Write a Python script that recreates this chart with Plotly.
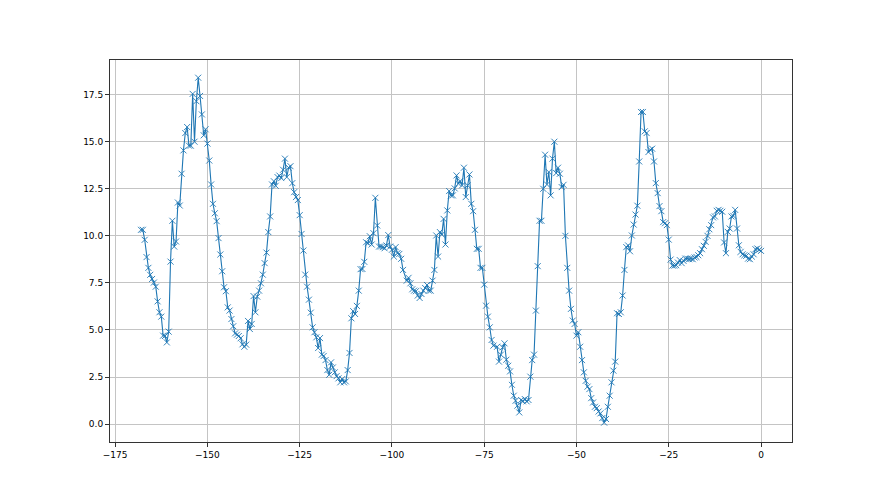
import plotly.graph_objects as go

# y-values, grouped in runs of consecutive samples (step 0.5)
run_starts = [-168.0, -145.0, -120.5, -96.0, -71.5, -47.5, -23.0, -11.5]
step = 0.5

run_a = [10.32, 10.32, 9.79, 8.87, 8.3, 7.93, 7.71, 7.52, 7.3, 6.52, 5.94, 5.71, 4.7, 4.68,
         4.34, 4.91, 8.63, 10.8, 9.43, 9.7, 11.77, 11.61, 13.3, 14.54, 15.46, 15.78, 14.79,
         14.79, 17.54, 15.0, 17.15, 18.4, 17.43, 16.45, 15.34, 15.66, 14.9, 14.0, 12.73, 11.7,
         11.2, 10.78, 9.88, 9.01, 8.12, 7.27]
run_b = [7.06, 6.2, 6.03, 5.58, 5.2, 4.82, 4.75, 4.68, 4.56, 4.24, 4.11, 4.22, 5.48, 5.05,
         5.32, 6.8, 5.94, 6.77, 7.09, 7.48, 7.94, 8.55, 9.11, 10.2, 11.03, 12.73, 12.9, 12.66,
         13.12, 13.2, 13.07, 13.51, 14.1, 13.12, 13.62, 13.7, 12.8, 12.32, 12.06, 11.9, 11.1,
         10.1, 9.22, 7.94, 7.3, 6.61, 5.92, 5.14, 4.88]
run_c = [4.61, 4.04, 4.57, 3.69, 3.62, 3.4, 2.87, 2.62, 3.28, 3.01, 2.75, 2.55, 2.43, 2.22,
         2.39, 2.22, 2.27, 2.87, 3.78, 5.62, 6.0, 5.85, 6.28, 7.09, 8.23, 8.24, 8.62, 9.66,
         9.61, 9.98, 9.54, 10.14, 12.02, 10.55, 9.43, 9.43, 9.4, 9.34, 9.49, 10.04, 9.43,
         9.26, 8.9, 9.4, 9.08, 9.04, 8.78, 8.19]
run_d = [7.62, 7.77, 7.48, 7.16, 7.09, 7.06, 6.83, 6.7, 6.91, 7.09, 7.23, 7.39, 7.09, 7.09,
         7.62, 8.19, 10.02, 8.9, 10.2, 10.07, 10.9, 9.54, 11.35, 12.38, 12.15, 12.15, 12.52,
         13.21, 12.77, 12.91, 12.68, 13.62, 12.06, 12.68, 13.26, 11.7, 11.31, 10.32, 9.31,
         9.31, 8.3, 8.3, 7.41, 6.29, 5.71, 5.14, 4.47, 4.17]
run_e = [4.11, 3.32, 3.69, 4.08, 4.29, 3.42, 3.1, 2.8, 2.09, 1.51, 1.24, 0.98, 0.62, 1.28,
         1.21, 1.33, 1.21, 1.28, 2.52, 3.4, 3.69, 6.03, 8.39, 10.8, 10.8, 12.5, 14.31, 12.73,
         13.39, 12.15, 14.1, 15.0, 13.33, 13.62, 13.3, 12.59, 12.71, 10.0, 8.3, 7.09, 6.12,
         5.5, 5.32, 4.7, 4.88, 4.11, 3.4, 2.75]
run_f = [2.3, 1.99, 1.86, 1.38, 1.15, 0.92, 0.85, 0.67, 0.57, 0.32, 0.08, 0.27, 0.92, 1.51,
         2.22, 2.84, 3.32, 5.89, 5.85, 5.94, 6.83, 8.19, 9.4, 9.49, 9.18, 10.02, 10.6, 11.13,
         11.6, 13.95, 16.58, 16.58, 15.55, 15.46, 14.45, 14.57, 14.63, 13.95, 12.8, 12.27,
         11.58, 11.31, 10.73, 10.67, 10.57, 9.8, 8.74, 8.42, 8.42]
run_g = [8.44, 8.58, 8.71, 8.55, 8.67, 8.79, 8.79, 8.76, 8.79, 8.76, 8.85, 8.88, 8.97, 9.08,
         9.29, 9.47, 9.68, 10.0, 10.35, 10.57, 10.98, 11.03, 11.33]
run_h = [11.38, 11.33, 11.28, 9.65, 9.08, 10.21, 10.39, 11.03, 11.06, 11.38, 10.39, 9.5,
         9.15, 9.02, 8.97, 8.94, 8.79, 8.76, 8.9, 9.02, 9.29, 9.33, 9.26, 9.2]

x_ticks = [-175, -150, -125, -100, -75, -50, -25, 0]
y_ticks = [0.0, 2.5, 5.0, 7.5, 10.0, 12.5, 15.0, 17.5]

runs = [run_a, run_b, run_c, run_d, run_e, run_f, run_g, run_h]
xs, ys = [], []
for start, vals in zip(run_starts, runs):
    for i, v in enumerate(vals):
        xs.append(start + step * i)
        ys.append(v)

blue = "#1f77b4"
fig = go.Figure()
fig.add_trace(go.Scatter(
    x=xs, y=ys, mode="lines+markers",
    line=dict(color=blue, width=1.1),
    marker=dict(symbol="x-thin", size=6, line=dict(color=blue, width=0.9), color=blue),
    showlegend=False,
))

axis_common = dict(
    showline=True, linecolor="#333333", linewidth=1, mirror=True,
    ticks="outside", ticklen=4, tickwidth=0.8, tickcolor="#333333",
    showgrid=True, gridcolor="#c4c4c4", gridwidth=0.8, zeroline=False,
    tickfont=dict(family="DejaVu Sans", size=9, color="black"),
)
fig.update_xaxes(range=[-176.4, 8.4], tickvals=x_ticks,
                 ticktext=[("\u2212" + str(-t)) if t < 0 else str(t) for t in x_ticks],
                 **axis_common)
fig.update_yaxes(range=[-0.95, 19.34], tickvals=y_ticks,
                 ticktext=[f"{t:.1f}" for t in y_ticks], **axis_common)
fig.update_layout(
    width=880, height=495,
    margin=dict(l=102, r=96, t=52, b=61, pad=0),
    plot_bgcolor="white", paper_bgcolor="white",
)
fig.write_html("out.html")
